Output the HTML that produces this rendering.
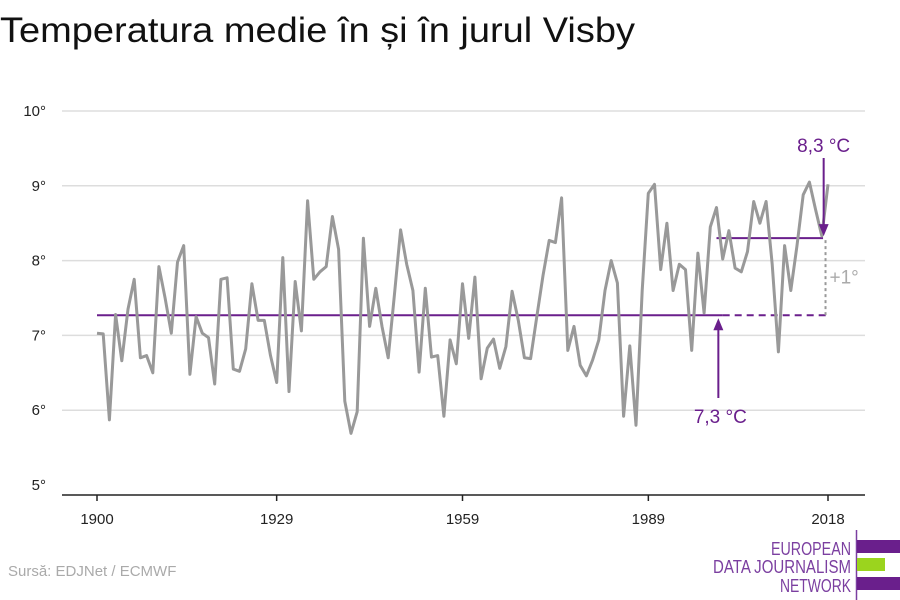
<!DOCTYPE html>
<html><head><meta charset="utf-8">
<style>
body{margin:0;width:900px;height:600px;background:#fff;overflow:hidden;font-family:"Liberation Sans",sans-serif}
svg{display:block}
</style></head>
<body>
<svg width="900" height="600">
<text x="0" y="42" font-size="35" fill="#111" textLength="635" lengthAdjust="spacingAndGlyphs">Temperatura medie în și în jurul Visby</text>
<g id="grid"></g>
<g id="yticks"></g>
<g id="xaxis"></g>
<g id="refs"></g>
<path id="line" fill="none" stroke="#999" stroke-width="3" stroke-linejoin="round"/>
<g id="annot"></g>
<text x="8" y="576" font-size="15" fill="#aaa">Sursă: EDJNet / ECMWF</text>
<g>
<line x1="856.5" y1="530" x2="856.5" y2="600" stroke="#7b3fa0" stroke-width="1.5"/>
<rect x="857" y="540" width="43" height="13" fill="#6a1f8c"/>
<rect x="857" y="558" width="28" height="13" fill="#9bd41e"/>
<rect x="857" y="577" width="43" height="13" fill="#6a1f8c"/>
<g font-size="18" fill="#7b3fa0" text-anchor="end">
<text x="851" y="555" textLength="80" lengthAdjust="spacingAndGlyphs">EUROPEAN</text>
<text x="851" y="573" textLength="138" lengthAdjust="spacingAndGlyphs">DATA JOURNALISM</text>
<text x="851" y="592" textLength="71" lengthAdjust="spacingAndGlyphs">NETWORK</text>
</g></g>
</svg>
<script>
const years=[];for(let y=1900;y<=2018;y++)years.push(y);
const temps=[7.03,7.02,5.87,7.28,6.66,7.35,7.75,6.7,6.73,6.5,7.92,7.5,7.03,7.98,8.2,6.48,7.25,7.03,6.97,6.35,7.75,7.77,6.55,6.52,6.82,7.69,7.2,7.2,6.73,6.37,8.04,6.25,7.72,7.06,8.8,7.75,7.85,7.92,8.59,8.15,6.12,5.69,5.98,8.3,7.12,7.63,7.12,6.7,7.54,8.41,7.95,7.6,6.51,7.63,6.71,6.73,5.92,6.94,6.62,7.69,6.96,7.78,6.42,6.83,6.95,6.56,6.85,7.59,7.2,6.7,6.69,7.25,7.8,8.27,8.24,8.84,6.8,7.12,6.6,6.46,6.67,6.94,7.6,8.0,7.7,5.92,6.86,5.8,7.6,8.9,9.02,7.88,8.5,7.6,7.95,7.88,6.8,8.1,7.3,8.45,8.71,8.02,8.4,7.9,7.85,8.12,8.79,8.5,8.79,7.95,6.78,8.2,7.6,8.2,8.88,9.05,8.68,8.33,9.02];
const yTicks=[5,6,7,8,9,10];
const xTicks=[1900,1929,1959,1989,2018];
const baseMean=7.27, recentMean=8.3;
const baseLabel="7,3 °C", recentLabel="8,3 °C";
const X=y=>97+(y-1900)*(828-97)/118;
const Y=v=>485-(v-5)*74.8;
const NS="http://www.w3.org/2000/svg";
function mk(parent,tag,attrs){const e=document.createElementNS(NS,tag);for(const k in attrs)e.setAttribute(k,attrs[k]);document.getElementById(parent).appendChild(e);return e;}
yTicks.forEach(t=>{
 if(t>5){const g=mk('grid','line',{x1:62,x2:865,y1:Y(t),y2:Y(t),stroke:'#ddd','stroke-width':1.5});
 
 }
 const tx=mk('yticks','text',{x:46,y:Y(t)+5,'text-anchor':'end','font-size':15,fill:'#222'});
 tx.textContent=t+'°';
 
 
});
const ax=mk('xaxis','line',{x1:62,x2:865,y1:495,y2:495,stroke:'#222','stroke-width':1.5});


xTicks.forEach(t=>{
 const tk=mk('xaxis','line',{x1:X(t),x2:X(t),y1:495,y2:501,stroke:'#222','stroke-width':1.5});
 
 
 const tx=mk('xaxis','text',{x:X(t),y:524,'text-anchor':'middle','font-size':15,fill:'#222'});
 tx.textContent=t;
 
 
});
document.getElementById('line').setAttribute('d',temps.map((v,i)=>(i?'L':'M')+X(years[i]).toFixed(1)+','+Y(v).toFixed(1)).join(''));
const P='#6a1f8c';
let e;
e=mk('refs','line',{x1:X(1900),x2:X(2001),y1:Y(baseMean),y2:Y(baseMean),stroke:P,'stroke-width':2});


e=mk('refs','line',{x1:X(2001),x2:X(2018),y1:Y(baseMean),y2:Y(baseMean),stroke:P,'stroke-width':2,'stroke-dasharray':'7,5'});


e=mk('refs','line',{x1:X(2000),x2:X(2017.2),y1:Y(recentMean),y2:Y(recentMean),stroke:P,'stroke-width':2});


e=mk('refs','line',{x1:X(2017.6),x2:X(2017.6),y1:Y(recentMean)+2,y2:Y(baseMean),stroke:'#999','stroke-width':2,'stroke-dasharray':'3,3'});


e=mk('annot','text',{x:X(2017.6)+4,y:(Y(recentMean)+Y(baseMean))/2+7,'font-size':19,fill:'#aaa'});
e.textContent='+1°';


const ax1=X(2000.3);
e=mk('annot','line',{x1:ax1,x2:ax1,y1:398,y2:Y(baseMean)+14,stroke:P,'stroke-width':2});


e=mk('annot','path',{d:`M${ax1-5},${Y(baseMean)+15}L${ax1+5},${Y(baseMean)+15}L${ax1},${Y(baseMean)+3}Z`,fill:P});


e=mk('annot','text',{x:ax1+2,y:423,'text-anchor':'middle','font-size':19,fill:P});
e.textContent=baseLabel;


const ax2=X(2017.3);
e=mk('annot','line',{x1:ax2,x2:ax2,y1:158,y2:Y(recentMean)-12,stroke:P,'stroke-width':2});


e=mk('annot','path',{d:`M${ax2-5},${Y(recentMean)-14}L${ax2+5},${Y(recentMean)-14}L${ax2},${Y(recentMean)-2}Z`,fill:P});


e=mk('annot','text',{x:ax2,y:152,'text-anchor':'middle','font-size':19,fill:P});
e.textContent=recentLabel;


</script>
</body></html>
